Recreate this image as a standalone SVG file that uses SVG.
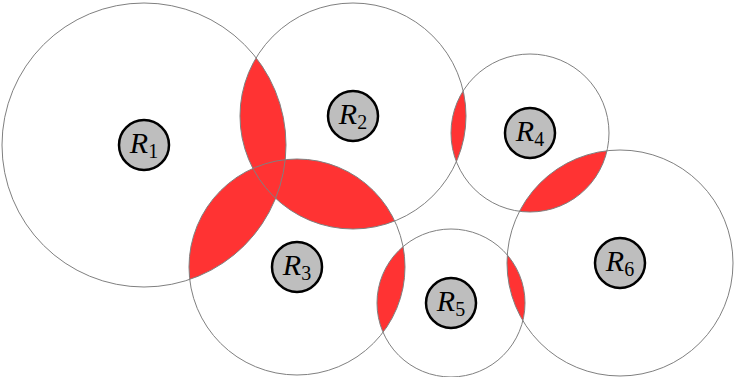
<svg xmlns="http://www.w3.org/2000/svg" width="734" height="377" viewBox="0 0 734 377">
<style>
.ring{fill:none;stroke:#808080;stroke-width:1}
.lens{fill:#FF3333;stroke:none}
.node{fill:#BEBEBE;stroke:#000;stroke-width:2.5}
.lbl{font-family:"Liberation Serif","DejaVu Serif",serif;font-style:italic;font-size:30px;fill:#000;text-anchor:middle}
.sub{font-style:normal;font-size:20px}
</style>
<defs>
<clipPath id="k1"><circle cx="144" cy="145" r="142"/></clipPath>
<clipPath id="k2"><circle cx="353" cy="116" r="113"/></clipPath>
<clipPath id="k3"><circle cx="297" cy="267" r="108"/></clipPath>
<clipPath id="k4"><circle cx="530" cy="133" r="79"/></clipPath>
<clipPath id="k5"><circle cx="451" cy="303" r="74"/></clipPath>
<clipPath id="k6"><circle cx="620" cy="263" r="113"/></clipPath>
</defs>
<g id="overlaps">
<circle class="lens" cx="353" cy="116" r="113" clip-path="url(#k1)"/>
<circle class="lens" cx="297" cy="267" r="108" clip-path="url(#k1)"/>
<circle class="lens" cx="297" cy="267" r="108" clip-path="url(#k2)"/>
<circle class="lens" cx="530" cy="133" r="79" clip-path="url(#k2)"/>
<circle class="lens" cx="451" cy="303" r="74" clip-path="url(#k3)"/>
<circle class="lens" cx="620" cy="263" r="113" clip-path="url(#k4)"/>
<circle class="lens" cx="620" cy="263" r="113" clip-path="url(#k5)"/>
</g>
<g id="ranges">
<circle class="ring" cx="144" cy="145" r="142"/>
<circle class="ring" cx="353" cy="116" r="113"/>
<circle class="ring" cx="297" cy="267" r="108"/>
<circle class="ring" cx="530" cy="133" r="79"/>
<circle class="ring" cx="451" cy="303" r="74"/>
<circle class="ring" cx="620" cy="263" r="113"/>
</g>
<g id="R1"><circle class="node" cx="144" cy="145" r="25"/><text class="lbl" x="144" y="153">R<tspan class="sub" dy="5">1</tspan></text></g>
<g id="R2"><circle class="node" cx="353" cy="116" r="25"/><text class="lbl" x="353" y="124">R<tspan class="sub" dy="5">2</tspan></text></g>
<g id="R3"><circle class="node" cx="297" cy="267" r="25"/><text class="lbl" x="297" y="275">R<tspan class="sub" dy="5">3</tspan></text></g>
<g id="R4"><circle class="node" cx="530" cy="133" r="25"/><text class="lbl" x="530" y="141">R<tspan class="sub" dy="5">4</tspan></text></g>
<g id="R5"><circle class="node" cx="451" cy="303" r="25"/><text class="lbl" x="451" y="311">R<tspan class="sub" dy="5">5</tspan></text></g>
<g id="R6"><circle class="node" cx="620" cy="263" r="25"/><text class="lbl" x="620" y="271">R<tspan class="sub" dy="5">6</tspan></text></g>
</svg>
